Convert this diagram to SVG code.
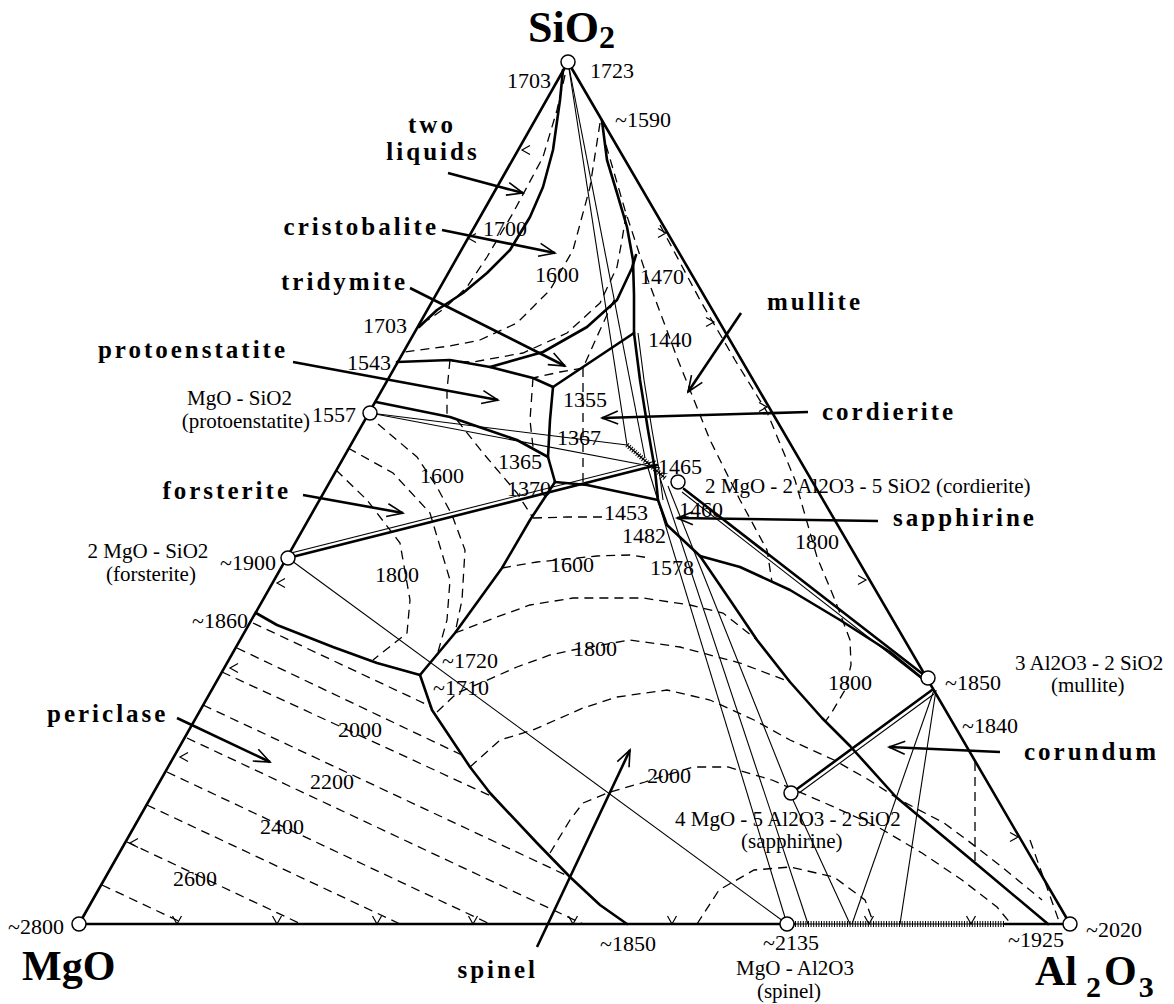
<svg xmlns="http://www.w3.org/2000/svg" width="1174" height="1004" viewBox="0 0 1174 1004">
<style>
.b{fill:none;stroke:#000;stroke-width:2.6;stroke-linejoin:round;stroke-linecap:round}
.t{fill:none;stroke:#000;stroke-width:1.1}
.d{fill:none;stroke:#000;stroke-width:1.3;stroke-dasharray:9 6}
.a{fill:none;stroke:#000;stroke-width:2.6;marker-end:url(#ah)}
.h{fill:none;stroke:#000;stroke-width:6;stroke-dasharray:1 1.6}
text{font-family:"Liberation Serif","Times New Roman",serif;fill:#000}
.n{font-size:22px}
.c{font-size:21px}
.l{font-size:25px;font-weight:bold;letter-spacing:3px}
.big{font-size:42px;font-weight:bold}
circle{fill:#fff;stroke:#000;stroke-width:1.5}
</style>
<defs>
<marker id="ah" markerUnits="userSpaceOnUse" markerWidth="20" markerHeight="20" refX="0" refY="0" orient="auto" overflow="visible" viewBox="-20 -10 20 20">
<path d="M-16,-6.5 L0,0 L-16,6.5" fill="none" stroke="#000" stroke-width="1.6"/>
</marker>
<path id="cr" d="M-8,-4.5 L0,0 L-8,4.5" fill="none" stroke="#000" stroke-width="1.2"/>
</defs>
<rect width="1174" height="1004" fill="#fff"/>

<g id="connectors">
<g id="edges">
<path class="b" d="M79,924 L568,62 L1070,924"/>
<path class="b" d="M79,924 L795,924"/>
<path class="b" d="M1005,924 L1070,924"/>
<path class="t" d="M795,924 L1005,924"/>
<path class="h" d="M795,924 L1005,924"/>
</g>
<g id="boundaries">
<path class="b" d="M563,70 L560,100 L553,150 L543,187 L530,217 L510,250 L487,273 L463,293 L437,310 L419,327"/>
<path class="b" d="M490,367 L543,352 L587,327 L617,300 L632,268 L636,255"/>
<path class="b" d="M602,121 L607,160 L617,193 L627,227 L633,260 L634,295 L634,333"/>
<path class="b" d="M634,333 L553,387"/>
<path class="b" d="M397,362 L450,360 L490,367 L533,378 L553,387"/>
<path class="b" d="M553,387 L550,420 L548,457 L555,482"/>
<path class="b" d="M376,402 L450,417 L517,440 L548,457"/>
<path class="b" d="M555,482 L587,485 L620,492 L658,500"/>
<path class="b" d="M634,333 L640,380 L648,430 L655,470 L658,500 L667,525"/>
<path class="t" d="M638,333 L644,380 L652,430 L659,470 L663,500"/>
<path class="b" d="M667,525 L700,556"/>
<path class="b" d="M555,482 L530,520 L502,568 L455,633 L420,675"/>
<path class="b" d="M256,613 L277,625 L333,647 L377,663 L420,675"/>
<path class="b" d="M420,675 L432,710 L470,767 L490,793 L537,843 L570,877 L600,905 L627,924"/>
<path class="b" d="M700,556 L740,567 L790,590 L840,620 L890,652 L928,683"/>
<path class="b" d="M700,556 L730,600 L757,640 L790,682 L822,718 L850,746 L896,797 L980,867 L1048,924"/>
</g>
<g id="joins">
<path class="t" d="M568,62 L627,445"/>
<path class="t" d="M568,62 L645,458"/>
<path class="t" d="M648,468 L787,924"/>
<path class="t" d="M660,478 L808,924"/>
<path class="t" d="M288,558 L787,924"/>
<path class="b" d="M288,558 L657,465"/>
<path class="t" d="M287,554 L656,461"/>
<path class="t" d="M370,413 L627,445"/>
<path class="t" d="M370,413 L660,468"/>
<path class="t" d="M627,445 L665,478"/>
<path class="h" d="M627,445 L665,478" style="stroke-width:5"/>
<path class="b" d="M684,489 L924,675"/>
<path class="t" d="M682,492 L922,679"/>
<path class="b" d="M797,789 L932,690"/>
<path class="t" d="M799,793 L934,694"/>
<path class="t" d="M934,690 L852,924"/>
<path class="t" d="M936,690 L900,924"/>
<path class="t" d="M793,800 L850,924"/>
<path class="t" d="M668,486 L788,787"/>
</g>
<g id="isotherms">
<path class="d" d="M565,75 L557,110 L543,157 L527,187 L513,213 L487,257 L467,287 L445,308 L428,320"/>
<path class="d" d="M600,123 L590,187 L573,250 L550,290 L517,323 L480,340 L450,346 L404,352"/>
<path class="d" d="M626,215 L622,240 L617,267 L600,303 L567,333 L523,353 L473,362 L452,361"/>
<path class="d" d="M614,300 L600,330 L583,368 L560,372 L533,378"/>
<path class="d" d="M450,360 L447,390 L447,417"/>
<path class="d" d="M533,378 L530,420 L533,447"/>
<path class="d" d="M583,368 L583,425 L583,482"/>
<path class="d" d="M336,470 L367,500 L400,543 L410,600 L407,633 L373,660"/>
<path class="d" d="M348,448 L393,473 L430,513 L450,580 L447,620 L438,652"/>
<path class="d" d="M378,424 L417,457 L437,487 L452,515 L465,550 L462,600 L455,633"/>
<path class="d" d="M457,420 L483,453 L517,493 L533,518"/>
<path class="d" d="M533,518 L567,517 L603,517"/>
<path class="d" d="M502,568 L537,562 L597,556 L630,555 L650,558"/>
<path class="d" d="M455,633 L497,617 L530,605 L573,598 L643,598 L690,605 L723,613 L757,640"/>
<path class="d" d="M437,712 L457,693 L483,682 L517,667 L550,655 L573,650 L630,640 L680,647 L740,663 L790,682"/>
<path class="d" d="M470,767 L500,740 L533,730 L583,708 L617,697 L667,690 L710,700 L754,720 L790,740 L834,760 L869,780 L900,800 L944,823 L967,840 L1002,867 L1042,900"/>
<path class="d" d="M550,853 L570,820 L583,803 L610,792 L645,782 L693,767 L728,767 L772,780 L834,807 L878,827 L922,853 L962,880 L997,907 L1011,924"/>
<path class="d" d="M697,924 L719,890 L754,870 L790,867 L834,877 L865,900 L874,924"/>
<path class="d" d="M606,145 L625,210 L648,280 L678,360 L710,440 L740,500 L767,550 L772,582"/>
<path class="d" d="M660,225 L700,300 L735,360 L767,412 L795,480 L817,557 L835,600 L850,640 L851,665 L845,690 L832,712 L825,722"/>
<path class="d" d="M975,762 L975,862"/>
<path class="d" d="M1030,840 L1060,924"/>
<path class="d" d="M253,623 L432,707"/>
<path class="d" d="M237,648 L466,757"/>
<path class="d" d="M222,672 L493,797"/>
<path class="d" d="M203,705 L570,877"/>
<path class="d" d="M187,738 L583,924"/>
<path class="d" d="M167,772 L490,924"/>
<path class="d" d="M147,805 L400,924"/>
<path class="d" d="M127,842 L301,924"/>
<path class="d" d="M102,885 L185,924"/>
</g>
<g id="ticks">
<use href="#cr" transform="translate(177 924) rotate(90)"/>
<use href="#cr" transform="translate(277 924) rotate(90)"/>
<use href="#cr" transform="translate(377 924) rotate(90)"/>
<use href="#cr" transform="translate(473 924) rotate(90)"/>
<use href="#cr" transform="translate(573 924) rotate(90)"/>
<use href="#cr" transform="translate(672 924) rotate(90)"/>
<use href="#cr" transform="translate(869 924) rotate(90)"/>
<use href="#cr" transform="translate(971 924) rotate(90)"/>
<use href="#cr" transform="translate(277 583) rotate(180)"/>
<use href="#cr" transform="translate(230 668) rotate(180)"/>
<use href="#cr" transform="translate(180 757) rotate(180)"/>
<use href="#cr" transform="translate(130 843) rotate(180)"/>
<use href="#cr" transform="translate(468 238) rotate(180)"/>
<use href="#cr" transform="translate(522 150) rotate(180)"/>
<use href="#cr" transform="translate(666 233)"/>
<use href="#cr" transform="translate(714 322)"/>
<use href="#cr" transform="translate(767 407)"/>
<use href="#cr" transform="translate(866 580)"/>
<use href="#cr" transform="translate(1018 837)"/>
</g>
<g id="label-arrows">
<path class="a" d="M448,173 L523,193"/>
<path class="a" d="M442,230 L555,253"/>
<path class="a" d="M410,288 L565,366"/>
<path class="a" d="M293,362 L498,400"/>
<path class="a" d="M303,495 L403,513"/>
<path class="a" d="M741,313 L688,392"/>
<path class="a" d="M808,412 L602,418"/>
<path class="a" d="M878,521 L677,518"/>
<path class="a" d="M1000,752 L889,747"/>
<path class="a" d="M537,947 L630,750"/>
<path class="a" d="M177,718 L270,762"/>
</g>
</g>

<g id="n-sio2"><circle cx="568" cy="62" r="7"/><text class="big" x="528" y="42" style="font-size:44px">SiO<tspan style="font-size:32px" dy="6">2</tspan></text></g>
<g id="n-mgo"><circle cx="79" cy="924" r="7"/><text class="big" x="22" y="980">MgO</text></g>
<g id="n-al2o3"><circle cx="1070" cy="924" r="7"/><text class="big" x="1035" y="985">Al<tspan style="font-size:30px" dx="9" dy="12">2</tspan><tspan dx="3" dy="-12">O</tspan><tspan style="font-size:30px" dx="2" dy="12">3</tspan></text></g>
<g id="n-protoenstatite"><circle cx="370" cy="413" r="7"/><text class="c" x="292" y="405" text-anchor="end">MgO - SiO2</text><text class="c" x="310" y="428" text-anchor="end">(protoenstatite)</text></g>
<g id="n-forsterite"><circle cx="288" cy="558" r="7"/><text class="c" x="148" y="558" text-anchor="middle">2 MgO - SiO2</text><text class="c" x="151" y="581" text-anchor="middle">(forsterite)</text></g>
<g id="n-cordierite"><circle cx="678" cy="482" r="7"/><text class="c" x="705" y="493">2 MgO - 2 Al2O3 - 5 SiO2 (cordierite)</text></g>
<g id="n-sapphirine"><circle cx="791" cy="793" r="7"/><text class="c" x="675" y="826">4 MgO - 5 Al2O3 - 2 SiO2</text><text class="c" x="741" y="848">(sapphirine)</text></g>
<g id="n-mullite"><circle cx="928" cy="678" r="7"/><text class="c" x="1015" y="670">3 Al2O3 - 2 SiO2</text><text class="c" x="1051" y="692">(mullite)</text></g>
<g id="n-spinel"><circle cx="787" cy="924" r="7"/><text class="c" x="795" y="975" text-anchor="middle">MgO - Al2O3</text><text class="c" x="789" y="998" text-anchor="middle">(spinel)</text></g>

<g id="field-labels">
<text class="l" x="432" y="133" text-anchor="middle">two</text>
<text class="l" x="433" y="160" text-anchor="middle">liquids</text>
<text class="l" x="439" y="235" text-anchor="end">cristobalite</text>
<text class="l" x="408" y="290" text-anchor="end">tridymite</text>
<text class="l" x="288" y="358" text-anchor="end">protoenstatite</text>
<text class="l" x="291" y="499" text-anchor="end">forsterite</text>
<text class="l" x="47" y="722">periclase</text>
<text class="l" x="767" y="310">mullite</text>
<text class="l" x="822" y="420">cordierite</text>
<text class="l" x="893" y="526">sapphirine</text>
<text class="l" x="1024" y="760">corundum</text>
<text class="l" x="538" y="978" text-anchor="end">spinel</text>
</g>

<g id="temperatures" class="n">
<text x="507" y="88">1703</text>
<text x="590" y="78">1723</text>
<text x="615" y="127">~1590</text>
<text x="483" y="236">1700</text>
<text x="535" y="282">1600</text>
<text x="640" y="284">1470</text>
<text x="363" y="333">1703</text>
<text x="648" y="347">1440</text>
<text x="347" y="370">1543</text>
<text x="312" y="422">1557</text>
<text x="563" y="407">1355</text>
<text x="557" y="445">1367</text>
<text x="498" y="469">1365</text>
<text x="658" y="474">1465</text>
<text x="420" y="483">1600</text>
<text x="507" y="496">1370</text>
<text x="679" y="517">1460</text>
<text x="604" y="520">1453</text>
<text x="622" y="543">1482</text>
<text x="795" y="549">1800</text>
<text x="220" y="570">~1900</text>
<text x="375" y="582">1800</text>
<text x="550" y="572">1600</text>
<text x="650" y="575">1578</text>
<text x="192" y="628">~1860</text>
<text x="573" y="656">1800</text>
<text x="442" y="668">~1720</text>
<text x="433" y="695">~1710</text>
<text x="828" y="690">1800</text>
<text x="945" y="690">~1850</text>
<text x="962" y="733">~1840</text>
<text x="338" y="737">2000</text>
<text x="310" y="789">2200</text>
<text x="260" y="834">2400</text>
<text x="173" y="886">2600</text>
<text x="647" y="783">2000</text>
<text x="8" y="934">~2800</text>
<text x="1086" y="937">~2020</text>
<text x="1008" y="947">~1925</text>
<text x="600" y="951">~1850</text>
<text x="763" y="950">~2135</text>
</g>
</svg>
